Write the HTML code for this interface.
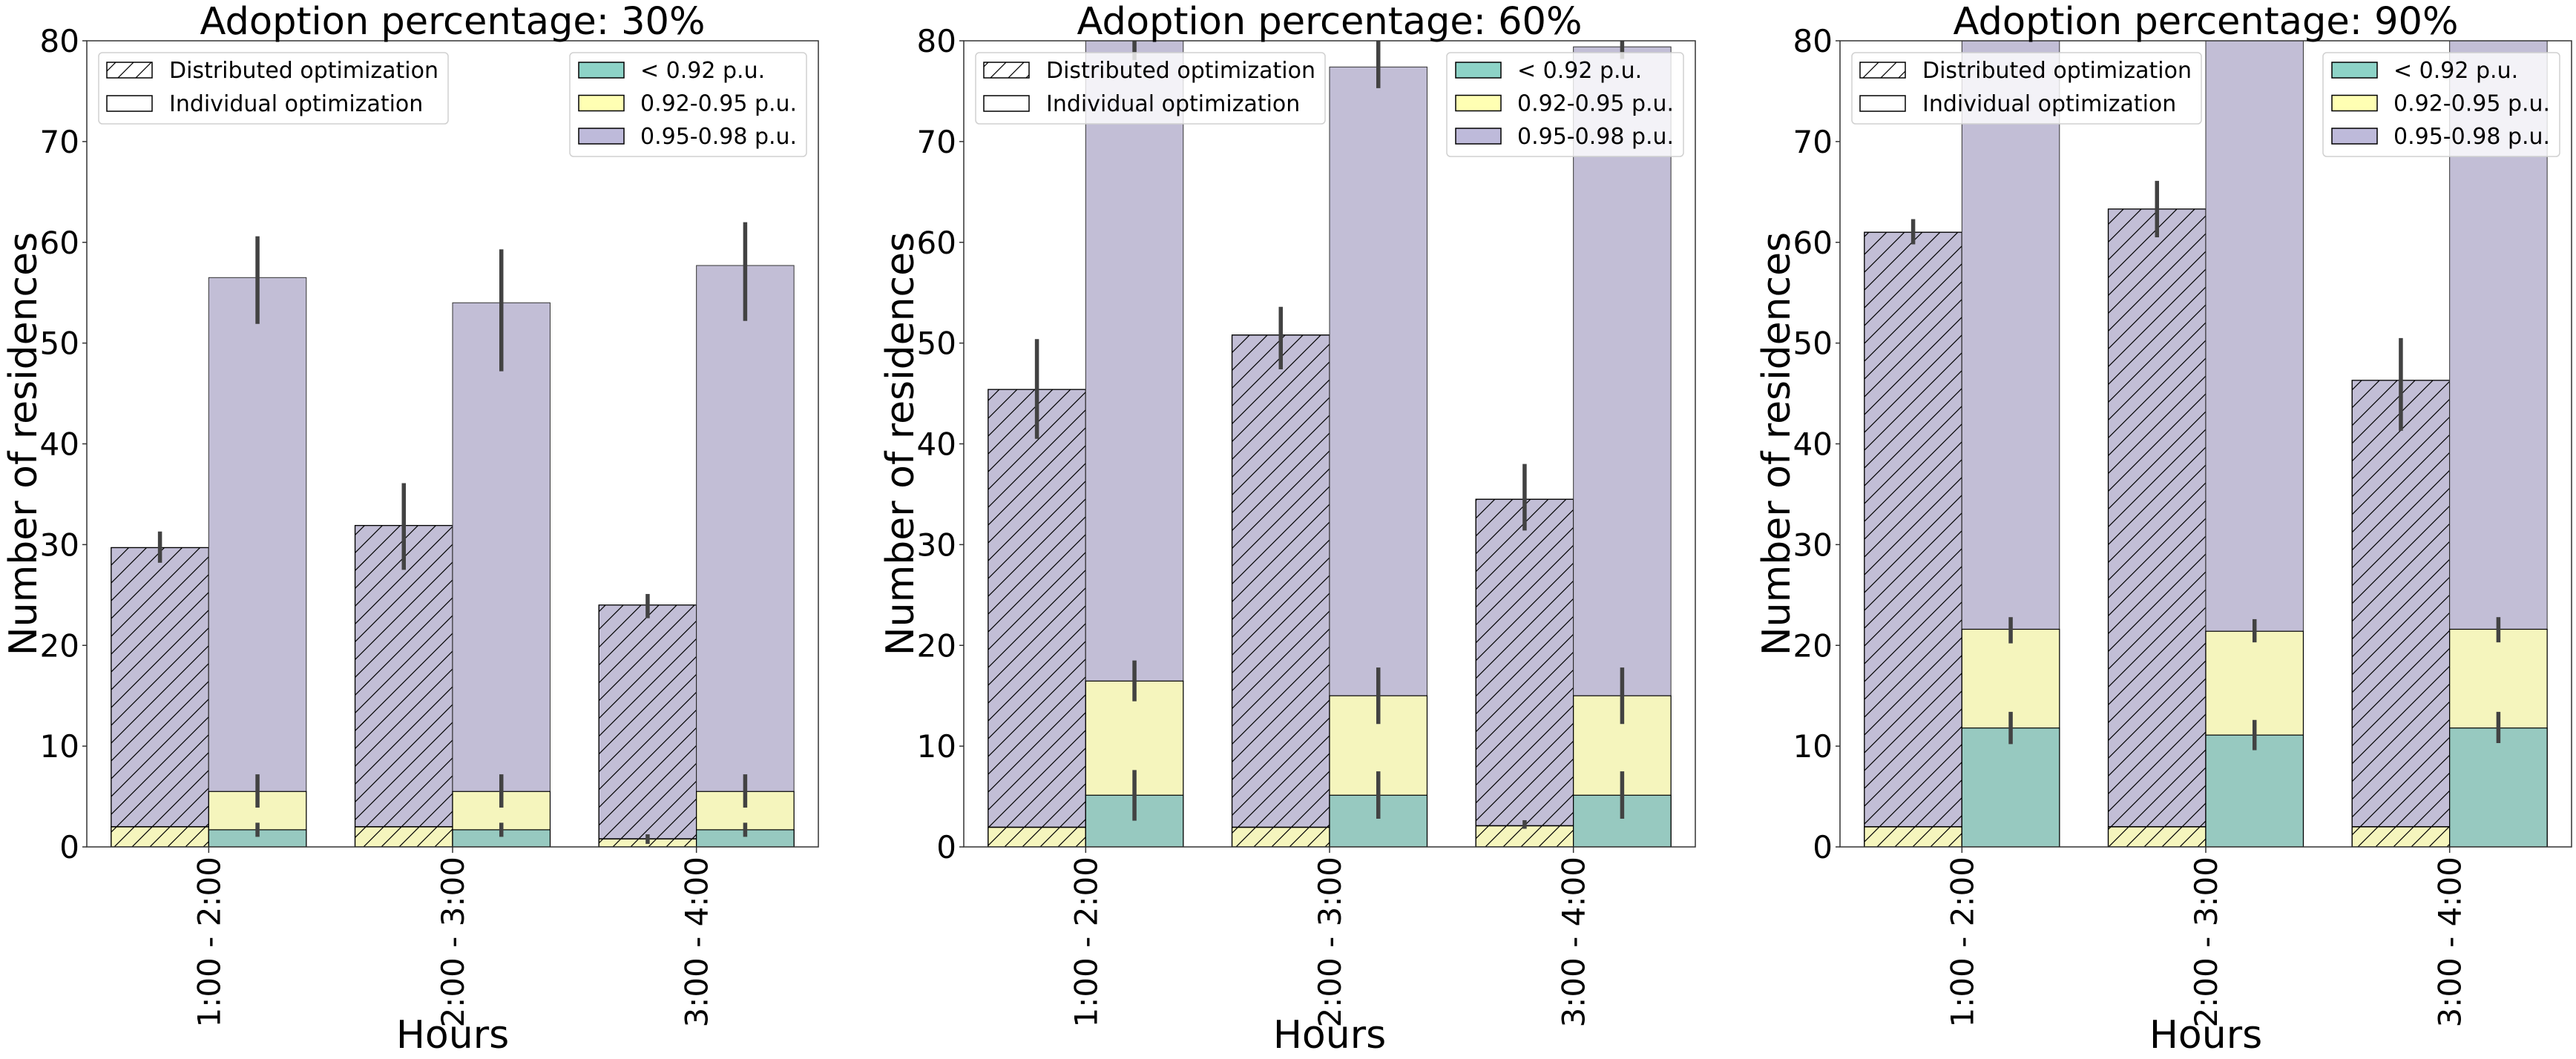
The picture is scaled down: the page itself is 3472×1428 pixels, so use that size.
<!DOCTYPE html>
<html><head><meta charset="utf-8"><style>
html,body{margin:0;padding:0;background:#fff;}
svg{display:block;font-family:"DejaVu Sans","Liberation Sans",sans-serif;}
</style></head><body>
<svg id="chart" width="3472" height="1428" viewBox="0 0 3472 1428" xmlns="http://www.w3.org/2000/svg">
<defs>
<pattern id="hatch" patternUnits="userSpaceOnUse" width="24" height="24">
<path d="M-6,30 L30,-6 M-6,6 L6,-6 M18,30 L30,18" stroke="#000" stroke-width="1.2"/>
</pattern>
</defs>
</svg>
<script>
const categories = ["1:00 - 2:00", "2:00 - 3:00", "3:00 - 4:00"];
const panelTitles = ["Adoption percentage: 30%", "Adoption percentage: 60%", "Adoption percentage: 90%"];
const yTicks = [0, 10, 20, 30, 40, 50, 60, 70, 80];
const legendMethods = ["Distributed optimization", "Individual optimization"];
const legendBands = ["< 0.92 p.u.", "0.92-0.95 p.u.", "0.95-0.98 p.u."];
// Distributed optimization (cumulative tops)
const distPurple = [[29.7, 31.9, 24.0], [45.4, 50.8, 34.5], [61.0, 63.3, 46.3]];
const distPurpleLo = [[28.2, 27.5, 22.7], [40.5, 47.4, 31.4], [59.8, 60.5, 41.3]];
const distPurpleHi = [[31.3, 36.1, 25.1], [50.4, 53.6, 38.0], [62.3, 66.1, 50.5]];
const distYellow = [[2.0, 2.0, 0.8], [1.95, 1.95, 2.1], [2.0, 2.0, 2.0]];
const distYellowLo = [[2.0, 2.0, 0.3], [1.95, 1.95, 1.8], [2.0, 2.0, 2.0]];
const distYellowHi = [[2.0, 2.0, 1.25], [1.95, 1.95, 2.65], [2.0, 2.0, 2.0]];
// Individual optimization (cumulative tops)
const indPurple = [[56.5, 54.0, 57.7], [82.0, 77.4, 79.4], [85.0, 86.0, 85.0]];
const indPurpleLo = [[51.9, 47.2, 52.2], [78.1, 75.3, 78.2], [81.0, 82.0, 81.0]];
const indPurpleHi = [[60.6, 59.3, 62.0], [86.0, 81.0, 80.6], [89.0, 90.0, 89.0]];
const indYellow = [[5.5, 5.5, 5.5], [16.46, 15.0, 15.0], [21.6, 21.4, 21.6]];
const indYellowLo = [[3.9, 3.9, 3.9], [14.45, 12.2, 12.2], [20.2, 20.3, 20.3]];
const indYellowHi = [[7.2, 7.2, 7.2], [18.5, 17.8, 17.8], [22.8, 22.6, 22.8]];
const indGreen = [[1.7, 1.7, 1.7], [5.13, 5.13, 5.13], [11.8, 11.1, 11.8]];
const indGreenLo = [[1.0, 1.0, 1.0], [2.6, 2.8, 2.8], [10.2, 9.6, 10.3]];
const indGreenHi = [[2.4, 2.4, 2.4], [7.63, 7.5, 7.5], [13.4, 12.6, 13.4]];

const NS = "http://www.w3.org/2000/svg";
const svg = document.getElementById("chart");
const panelLefts = [117, 1299, 2480];
const PW = 986, TOP = 55, BOT = 1142, YMAX = 80;
const C_PURPLE = "#c2bed6", C_YELLOW = "#f5f5bd", C_GREEN = "#97c9c0", C_ERR = "#424242";

function mk(tag, attrs, parent) {
  const e = document.createElementNS(NS, tag);
  for (const k in attrs) e.setAttribute(k, attrs[k]);
  (parent || svg).appendChild(e);
  return e;
}
function yScale(v) { return BOT - (v / YMAX) * (BOT - TOP); }

panelTitles.forEach((title, p) => {
  const L = panelLefts[p], R = L + PW;
  const g = mk("g", {});
  
  
  const clip = mk("clipPath", { id: "clip" + p }, svg.querySelector("defs"));
  mk("rect", { x: L, y: TOP, width: PW, height: BOT - TOP }, clip);
  const plot = mk("g", { "clip-path": "url(#clip" + p + ")" }, g);
  const catW = PW / categories.length, barW = catW * 0.4;
  function xCenter(i) { return L + catW * (i + 0.5); }

  function bar(x, top, fill, nm, stroke, sw) {
    const y = yScale(top);
    const r = mk("rect", { x: x, y: y, width: barW, height: BOT - y, fill: fill, stroke: stroke || "#000", "stroke-width": sw || 1.2 }, plot);
    
    
    return r;
  }
  function err(x, lo, hi, nm) {
    const l = mk("line", { x1: x, x2: x, y1: yScale(lo), y2: yScale(hi), stroke: C_ERR, "stroke-width": 5.5 }, plot);
    
    
  }

  categories.forEach((c, i) => {
    const xd = xCenter(i) - barW, xi = xCenter(i);
    bar(xd, distPurple[p][i], C_PURPLE, "dist-bar-095-098", "#000", 1.2);
    bar(xd, distYellow[p][i], C_YELLOW, "dist-bar-092-095", "#000", 1.2);
    const h = mk("rect", { x: xd, y: yScale(distPurple[p][i]), width: barW, height: BOT - yScale(distPurple[p][i]), fill: "url(#hatch)", stroke: "#000", "stroke-width": 1.2 }, plot);
    
    
    mk("line", { x1: xd, x2: xd + barW, y1: yScale(distYellow[p][i]), y2: yScale(distYellow[p][i]), stroke: "#000", "stroke-width": 1.5 }, plot);
    bar(xi, indPurple[p][i], C_PURPLE, "ind-bar-095-098", "#333", 1);
    bar(xi, indYellow[p][i], C_YELLOW, "ind-bar-092-095", "#000", 1.2);
    bar(xi, indGreen[p][i], C_GREEN, "ind-bar-below-092", "#000", 1.2);
    err(xd + barW / 2, distPurpleLo[p][i], distPurpleHi[p][i], "dist-err-purple");
    if (distYellowHi[p][i] - distYellowLo[p][i] > 0.05) err(xd + barW / 2, distYellowLo[p][i], distYellowHi[p][i], "dist-err-yellow");
    err(xi + barW / 2, indPurpleLo[p][i], indPurpleHi[p][i], "ind-err-purple");
    err(xi + barW / 2, indYellowLo[p][i], indYellowHi[p][i], "ind-err-yellow");
    err(xi + barW / 2, indGreenLo[p][i], indGreenHi[p][i], "ind-err-green");
    mk("line", { x1: xi, x2: xi, y1: BOT, y2: BOT + 8, stroke: "#333", "stroke-width": 1.5 }, g);
    const t = mk("text", { x: 0, y: 0, "font-size": 42, "text-anchor": "end", transform: "translate(" + (xi + 15) + "," + (BOT + 13) + ") rotate(-90)" }, g);
    t.textContent = c;
    
    
  });

  const fr = mk("rect", { x: L, y: TOP, width: PW, height: BOT - TOP, fill: "none", stroke: "#333", "stroke-width": 1.5 }, g);
  
  
  yTicks.forEach(v => {
    mk("line", { x1: L - 6, x2: L, y1: yScale(v), y2: yScale(v), stroke: "#333", "stroke-width": 1.5 }, g);
    const t = mk("text", { x: L - 10, y: yScale(v) + 15, "font-size": 42, "text-anchor": "end" }, g);
    t.textContent = v;
    
    
  });
  const tt = mk("text", { x: L + PW / 2, y: 46, "font-size": 51, "text-anchor": "middle" }, g);
  tt.textContent = title;
  
  
  const xl = mk("text", { x: L + PW / 2, y: 1413, "font-size": 52, "text-anchor": "middle" }, g);
  xl.textContent = "Hours";
  
  
  const yl = mk("text", { x: 0, y: 0, "font-size": 52, "text-anchor": "middle", transform: "translate(" + (L - 68) + "," + ((TOP + BOT) / 2) + ") rotate(-90)" }, g);
  yl.textContent = "Number of residences";
  
  

  const lg1 = mk("g", {}, g);
  
  
  mk("rect", { x: L + 16, y: 71, width: 471, height: 96, rx: 5, fill: "rgba(255,255,255,0.8)", stroke: "#d0d0d0", "stroke-width": 1.5 }, lg1);
  legendMethods.forEach((m, k) => {
    const py = 84 + k * 45;
    mk("rect", { x: L + 27, y: py, width: 61, height: 21, fill: k === 0 ? "url(#hatch)" : "#fff", stroke: "#000", "stroke-width": 1.5 }, lg1);
    const t = mk("text", { x: L + 111, y: py + 21, "font-size": 30 }, lg1);
    t.textContent = m;
    
    
  });
  const lg2 = mk("g", {}, g);
  
  
  const lx = R - 16 - 319;
  mk("rect", { x: lx, y: 71, width: 319, height: 140, rx: 5, fill: "rgba(255,255,255,0.8)", stroke: "#d0d0d0", "stroke-width": 1.5 }, lg2);
  const bandColors = ["#8dd3c7", "#ffffb3", "#bebada"];
  legendBands.forEach((b, k) => {
    const py = 84 + k * 44.5;
    mk("rect", { x: lx + 12, y: py, width: 61, height: 21, fill: bandColors[k], stroke: "#000", "stroke-width": 1.5 }, lg2);
    const t = mk("text", { x: lx + 95, y: py + 21, "font-size": 30 }, lg2);
    t.textContent = b;
    
    
  });
});
</script>
</body></html>
